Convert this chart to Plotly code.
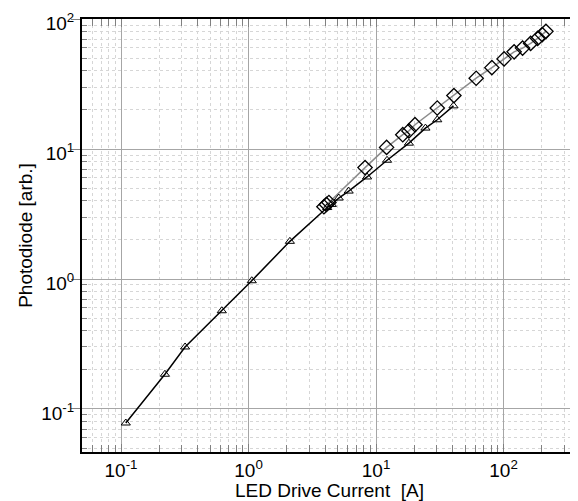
import plotly.graph_objects as go

# Series 1 (open triangles, black line)
tri_current = [0.109, 0.221, 0.318, 0.617, 1.06, 2.11, 4.14, 4.5, 5.1, 6.1, 8.5, 12.2, 18.1, 24.4, 30.2, 40.5]
tri_signal = [0.078, 0.185, 0.30, 0.57, 0.97, 1.95, 3.55, 3.75, 4.2, 4.75, 6.1, 8.2, 11.1, 14.5, 16.8, 21.5]

# Series 2 (open diamonds, grey line)
dia_current = [3.9, 4.08, 4.27, 8.2, 12.1, 16.2, 18.1, 20.2, 30.2, 40.8, 61, 81, 101, 121, 141, 163, 185, 201, 215]
dia_signal = [3.6, 3.75, 3.88, 7.2, 10.3, 12.9, 13.8, 15.4, 20.7, 25.8, 35.1, 42.3, 49.4, 56, 59.8, 65, 71, 76, 80.5]

major_vals = [0.1, 1, 10, 100]
major_text = ["10<sup>-1</sup>", "10<sup>0</sup>", "10<sup>1</sup>", "10<sup>2</sup>"]

x_title = "LED Drive Current  [A]"
y_title = "Photodiode [arb.]"

minor_vals = [m * 10.0 ** e for e in range(-2, 4) for m in range(2, 10)]

FONT = "Liberation Sans, Arial, sans-serif"

fig = go.Figure()
fig.add_trace(go.Scatter(
    x=dia_current, y=dia_signal, mode="lines+markers",
    line=dict(color="#8c8c8c", width=1.5),
    marker=dict(symbol="diamond-open", size=11, color="black", line=dict(width=1.3, color="black")),
    showlegend=False,
))
fig.add_trace(go.Scatter(
    x=tri_current, y=tri_signal, mode="lines+markers",
    line=dict(color="black", width=1.5),
    marker=dict(symbol="triangle-up-open", size=8, color="black", line=dict(width=1, color="black")),
    showlegend=False,
))

def axis_style(minor_len):
    return dict(
        type="log",
        automargin=False,
        tickmode="array",
        tickvals=major_vals,
        ticktext=major_text,
        ticklabeloverflow="allow",
        showgrid=True,
        gridcolor="#a6a6a6",
        gridwidth=1,
        showline=True,
        linecolor="black",
        linewidth=2,
        mirror="allticks",
        tickcolor="#808080",
        tickfont=dict(family=FONT, size=19, color="black"),
        zeroline=False,
        minor=dict(
            tickmode="array",
            tickvals=minor_vals,
            ticks="inside",
            ticklen=minor_len,
            tickcolor="#808080",
            showgrid=True,
            gridcolor="#d6d6d6",
            griddash="dot",
            gridwidth=1,
        ),
    )

# page body has an 8px margin, so the figure is sized to fit the window
fig.update_layout(
    width=570, height=493,
    margin=dict(l=74, r=1, t=11, b=49),
    paper_bgcolor="white",
    plot_bgcolor="white",
    font=dict(family=FONT, size=19, color="black"),
    xaxis=dict(axis_style(7), range=[-1.306, 2.576], ticks="inside", ticklen=8,
               title=dict(text=x_title, font=dict(family=FONT, size=19), standoff=0)),
    yaxis=dict(axis_style(5), range=[-1.331, 2.0008], ticks="outside", ticklen=9,
               ticklabelstandoff=-7, ticklabelshift=4,
               title=dict(text=y_title, font=dict(family=FONT, size=19), standoff=4)),
)

fig.write_html("out.html")
